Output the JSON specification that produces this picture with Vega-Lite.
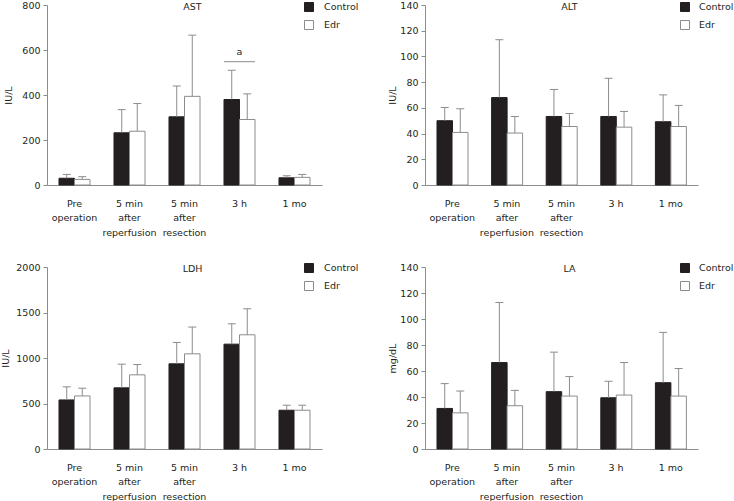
{
  "$schema": "https://vega.github.io/schema/vega-lite/v6.json",
  "padding": {"left": 0, "top": 0, "right": 0, "bottom": 0},
  "background": "white",
  "config": {
    "font": "DejaVu Sans",
    "view": {"stroke": null},
    "axis": {"labelFont": "DejaVu Sans", "titleFont": "DejaVu Sans", "labelFontSize": 9.5, "titleFontSize": 9.5, "titleFontWeight": "normal", "labelColor": "#231f20", "titleColor": "#231f20", "domainColor": "#8c8c8c", "tickColor": "#8c8c8c", "grid": false, "labelOverlap": false},
    "legend": {"labelFont": "DejaVu Sans", "labelFontSize": 9.5, "labelColor": "#231f20"},
    "title": {"font": "DejaVu Sans", "fontSize": 9.5, "fontWeight": "normal", "color": "#231f20"}
  },
  "datasets": {
    "vals": [
      {"panel": "AST", "time": "Pre|operation", "group": "Control", "mean": 30, "upper": 47},
      {"panel": "AST", "time": "Pre|operation", "group": "Edr", "mean": 25, "upper": 37},
      {"panel": "AST", "time": "5 min|after|reperfusion", "group": "Control", "mean": 232, "upper": 335},
      {"panel": "AST", "time": "5 min|after|reperfusion", "group": "Edr", "mean": 239, "upper": 362},
      {"panel": "AST", "time": "5 min|after|resection", "group": "Control", "mean": 303, "upper": 440},
      {"panel": "AST", "time": "5 min|after|resection", "group": "Edr", "mean": 394, "upper": 666},
      {"panel": "AST", "time": "3 h", "group": "Control", "mean": 380, "upper": 510},
      {"panel": "AST", "time": "3 h", "group": "Edr", "mean": 291, "upper": 405},
      {"panel": "AST", "time": "1 mo", "group": "Control", "mean": 32, "upper": 41},
      {"panel": "AST", "time": "1 mo", "group": "Edr", "mean": 34, "upper": 47},
      {"panel": "ALT", "time": "Pre|operation", "group": "Control", "mean": 50, "upper": 60.3},
      {"panel": "ALT", "time": "Pre|operation", "group": "Edr", "mean": 40.9, "upper": 59.3},
      {"panel": "ALT", "time": "5 min|after|reperfusion", "group": "Control", "mean": 68, "upper": 113},
      {"panel": "ALT", "time": "5 min|after|reperfusion", "group": "Edr", "mean": 40.4, "upper": 53.3},
      {"panel": "ALT", "time": "5 min|after|resection", "group": "Control", "mean": 53.3, "upper": 74.3},
      {"panel": "ALT", "time": "5 min|after|resection", "group": "Edr", "mean": 45.5, "upper": 55.6},
      {"panel": "ALT", "time": "3 h", "group": "Control", "mean": 53.3, "upper": 83},
      {"panel": "ALT", "time": "3 h", "group": "Edr", "mean": 45, "upper": 57.2},
      {"panel": "ALT", "time": "1 mo", "group": "Control", "mean": 49.2, "upper": 70.1},
      {"panel": "ALT", "time": "1 mo", "group": "Edr", "mean": 45.5, "upper": 61.9},
      {"panel": "LDH", "time": "Pre|operation", "group": "Control", "mean": 539, "upper": 683},
      {"panel": "LDH", "time": "Pre|operation", "group": "Edr", "mean": 583, "upper": 668},
      {"panel": "LDH", "time": "5 min|after|reperfusion", "group": "Control", "mean": 672, "upper": 932},
      {"panel": "LDH", "time": "5 min|after|reperfusion", "group": "Edr", "mean": 815, "upper": 928},
      {"panel": "LDH", "time": "5 min|after|resection", "group": "Control", "mean": 936, "upper": 1171},
      {"panel": "LDH", "time": "5 min|after|resection", "group": "Edr", "mean": 1046, "upper": 1340},
      {"panel": "LDH", "time": "3 h", "group": "Control", "mean": 1152, "upper": 1376},
      {"panel": "LDH", "time": "3 h", "group": "Edr", "mean": 1255, "upper": 1541},
      {"panel": "LDH", "time": "1 mo", "group": "Control", "mean": 426, "upper": 481},
      {"panel": "LDH", "time": "1 mo", "group": "Edr", "mean": 426, "upper": 481},
      {"panel": "LA", "time": "Pre|operation", "group": "Control", "mean": 31.2, "upper": 50.3},
      {"panel": "LA", "time": "Pre|operation", "group": "Edr", "mean": 27.8, "upper": 44.6},
      {"panel": "LA", "time": "5 min|after|reperfusion", "group": "Control", "mean": 66.5, "upper": 112.7},
      {"panel": "LA", "time": "5 min|after|reperfusion", "group": "Edr", "mean": 33.3, "upper": 45.1},
      {"panel": "LA", "time": "5 min|after|resection", "group": "Control", "mean": 44.1, "upper": 74.5},
      {"panel": "LA", "time": "5 min|after|resection", "group": "Edr", "mean": 40.7, "upper": 55.7},
      {"panel": "LA", "time": "3 h", "group": "Control", "mean": 39.4, "upper": 52.1},
      {"panel": "LA", "time": "3 h", "group": "Edr", "mean": 41.5, "upper": 66.5},
      {"panel": "LA", "time": "1 mo", "group": "Control", "mean": 51, "upper": 89.7},
      {"panel": "LA", "time": "1 mo", "group": "Edr", "mean": 40.7, "upper": 61.9}
    ],
    "ann": [
      {"time": "3 h", "lineY": 548, "textY": 592, "label": "a"}
    ]
  },
  "columns": 2,
  "spacing": {"row": 82, "column": 103},
  "bounds": "flush",
  "resolve": {"scale": {"fill": "independent", "stroke": "independent"}, "legend": {"fill": "independent", "stroke": "independent"}},
  "concat": [
    {
      "width": 275, "height": 180,
      "title": {"text": "AST", "frame": "group", "anchor": "middle", "offset": -11, "dx": 8},
      "data": {"name": "vals"},
      "transform": [{"filter": "datum.panel === 'AST'"}],
      "encoding": {
        "x": {"field": "time", "type": "nominal", "scale": {"domain": ["Pre|operation", "5 min|after|reperfusion", "5 min|after|resection", "3 h", "1 mo"], "paddingInner": 0, "paddingOuter": 0}, "axis": {"title": null, "ticks": false, "labelAngle": 0, "labelPadding": 13, "labelLineHeight": 14.5, "labelExpr": "split(datum.value, '|')"}}
      },
      "layer": [
        {"mark": {"type": "bar"}, "encoding": {
          "xOffset": {"field": "group", "type": "nominal", "scale": {"paddingInner": 0, "paddingOuter": 0.774}},
          "y": {"field": "mean", "type": "quantitative", "scale": {"domain": [0, 800]}, "axis": {"title": "IU/L", "values": [0, 200, 400, 600, 800], "tickSize": 4, "labelPadding": 3, "titlePadding": 8}},
          "fill": {"field": "group", "type": "nominal", "scale": {"domain": ["Control", "Edr"], "range": ["#231f20", "#ffffff"]}, "legend": {"orient": "none", "legendX": 257, "legendY": -3, "title": null, "symbolType": "square", "symbolSize": 81, "labelOffset": 10, "rowPadding": 4, "padding": 0, "symbolStrokeWidth": 1}},
          "stroke": {"field": "group", "type": "nominal", "scale": {"domain": ["Control", "Edr"], "range": ["#231f20", "#8c8c8c"]}, "legend": {"orient": "none", "legendX": 257, "legendY": -3, "title": null, "symbolType": "square", "symbolSize": 81, "labelOffset": 10, "rowPadding": 4, "padding": 0, "symbolStrokeWidth": 1}}
        }},
        {"mark": {"type": "rule", "color": "#8c8c8c", "strokeWidth": 1}, "encoding": {
          "xOffset": {"field": "group", "type": "nominal", "scale": {"paddingInner": 0, "paddingOuter": 0.774}},
          "y": {"field": "mean", "type": "quantitative", "axis": {"title": "IU/L", "values": [0, 200, 400, 600, 800], "tickSize": 4, "labelPadding": 3, "titlePadding": 8}}, "y2": {"field": "upper"}
        }},
        {"mark": {"type": "point", "shape": "M-1,0L1,0", "size": 64, "filled": false, "stroke": "#8c8c8c", "strokeWidth": 1, "opacity": 1}, "encoding": {
          "xOffset": {"field": "group", "type": "nominal", "scale": {"paddingInner": 0, "paddingOuter": 0.774}},
          "y": {"field": "upper", "type": "quantitative", "axis": {"title": "IU/L", "values": [0, 200, 400, 600, 800], "tickSize": 4, "labelPadding": 3, "titlePadding": 8}}
        }},
        {"data": {"name": "ann"}, "mark": {"type": "tick", "orient": "horizontal", "size": 31, "thickness": 1, "color": "#8c8c8c", "opacity": 1}, "encoding": {
          "y": {"field": "lineY", "type": "quantitative", "axis": {"title": "IU/L", "values": [0, 200, 400, 600, 800], "tickSize": 4, "labelPadding": 3, "titlePadding": 8}}
        }},
        {"data": {"name": "ann"}, "mark": {"type": "text", "fontSize": 9.5, "color": "#231f20", "baseline": "middle"}, "encoding": {
          "y": {"field": "textY", "type": "quantitative", "axis": {"title": "IU/L", "values": [0, 200, 400, 600, 800], "tickSize": 4, "labelPadding": 3, "titlePadding": 8}}, "text": {"field": "label"}
        }}
      ]
    },
    {
      "width": 273, "height": 180,
      "title": {"text": "ALT", "frame": "group", "anchor": "middle", "offset": -11, "dx": 8},
      "data": {"name": "vals"},
      "transform": [{"filter": "datum.panel === 'ALT'"}],
      "encoding": {
        "x": {"field": "time", "type": "nominal", "scale": {"domain": ["Pre|operation", "5 min|after|reperfusion", "5 min|after|resection", "3 h", "1 mo"], "paddingInner": 0, "paddingOuter": 0}, "axis": {"title": null, "ticks": false, "labelAngle": 0, "labelPadding": 13, "labelLineHeight": 14.5, "labelExpr": "split(datum.value, '|')"}},
        "xOffset": {"field": "group", "type": "nominal", "scale": {"paddingInner": 0, "paddingOuter": 0.774}}
      },
      "layer": [
        {"mark": {"type": "bar"}, "encoding": {
          "y": {"field": "mean", "type": "quantitative", "scale": {"domain": [0, 140]}, "axis": {"title": "IU/L", "values": [0, 20, 40, 60, 80, 100, 120, 140], "tickSize": 4, "labelPadding": 3, "titlePadding": 2}},
          "fill": {"field": "group", "type": "nominal", "scale": {"domain": ["Control", "Edr"], "range": ["#231f20", "#ffffff"]}, "legend": {"orient": "none", "legendX": 255, "legendY": -3, "title": null, "symbolType": "square", "symbolSize": 81, "labelOffset": 9, "rowPadding": 4, "padding": 0, "symbolStrokeWidth": 1}},
          "stroke": {"field": "group", "type": "nominal", "scale": {"domain": ["Control", "Edr"], "range": ["#231f20", "#8c8c8c"]}, "legend": {"orient": "none", "legendX": 255, "legendY": -3, "title": null, "symbolType": "square", "symbolSize": 81, "labelOffset": 9, "rowPadding": 4, "padding": 0, "symbolStrokeWidth": 1}}
        }},
        {"mark": {"type": "rule", "color": "#8c8c8c", "strokeWidth": 1}, "encoding": {
          "y": {"field": "mean", "type": "quantitative", "axis": {"title": "IU/L", "values": [0, 20, 40, 60, 80, 100, 120, 140], "tickSize": 4, "labelPadding": 3, "titlePadding": 2}}, "y2": {"field": "upper"}
        }},
        {"mark": {"type": "point", "shape": "M-1,0L1,0", "size": 64, "filled": false, "stroke": "#8c8c8c", "strokeWidth": 1, "opacity": 1}, "encoding": {
          "y": {"field": "upper", "type": "quantitative", "axis": {"title": "IU/L", "values": [0, 20, 40, 60, 80, 100, 120, 140], "tickSize": 4, "labelPadding": 3, "titlePadding": 2}}
        }}
      ]
    },
    {
      "width": 275, "height": 182,
      "title": {"text": "LDH", "frame": "group", "anchor": "middle", "offset": -11, "dx": 8},
      "data": {"name": "vals"},
      "transform": [{"filter": "datum.panel === 'LDH'"}],
      "encoding": {
        "x": {"field": "time", "type": "nominal", "scale": {"domain": ["Pre|operation", "5 min|after|reperfusion", "5 min|after|resection", "3 h", "1 mo"], "paddingInner": 0, "paddingOuter": 0}, "axis": {"title": null, "ticks": false, "labelAngle": 0, "labelPadding": 13, "labelLineHeight": 14.5, "labelExpr": "split(datum.value, '|')"}},
        "xOffset": {"field": "group", "type": "nominal", "scale": {"paddingInner": 0, "paddingOuter": 0.774}}
      },
      "layer": [
        {"mark": {"type": "bar"}, "encoding": {
          "y": {"field": "mean", "type": "quantitative", "scale": {"domain": [0, 2000]}, "axis": {"title": "IU/L", "format": "d", "values": [0, 500, 1000, 1500, 2000], "tickSize": 4, "labelPadding": 3, "titlePadding": 5}},
          "fill": {"field": "group", "type": "nominal", "scale": {"domain": ["Control", "Edr"], "range": ["#231f20", "#ffffff"]}, "legend": {"orient": "none", "legendX": 257, "legendY": -4, "title": null, "symbolType": "square", "symbolSize": 81, "labelOffset": 10, "rowPadding": 4, "padding": 0, "symbolStrokeWidth": 1}},
          "stroke": {"field": "group", "type": "nominal", "scale": {"domain": ["Control", "Edr"], "range": ["#231f20", "#8c8c8c"]}, "legend": {"orient": "none", "legendX": 257, "legendY": -4, "title": null, "symbolType": "square", "symbolSize": 81, "labelOffset": 10, "rowPadding": 4, "padding": 0, "symbolStrokeWidth": 1}}
        }},
        {"mark": {"type": "rule", "color": "#8c8c8c", "strokeWidth": 1}, "encoding": {
          "y": {"field": "mean", "type": "quantitative", "axis": {"title": "IU/L", "format": "d", "values": [0, 500, 1000, 1500, 2000], "tickSize": 4, "labelPadding": 3, "titlePadding": 5}}, "y2": {"field": "upper"}
        }},
        {"mark": {"type": "point", "shape": "M-1,0L1,0", "size": 64, "filled": false, "stroke": "#8c8c8c", "strokeWidth": 1, "opacity": 1}, "encoding": {
          "y": {"field": "upper", "type": "quantitative", "axis": {"title": "IU/L", "format": "d", "values": [0, 500, 1000, 1500, 2000], "tickSize": 4, "labelPadding": 3, "titlePadding": 5}}
        }}
      ]
    },
    {
      "width": 273, "height": 182,
      "title": {"text": "LA", "frame": "group", "anchor": "middle", "offset": -11, "dx": 8},
      "data": {"name": "vals"},
      "transform": [{"filter": "datum.panel === 'LA'"}],
      "encoding": {
        "x": {"field": "time", "type": "nominal", "scale": {"domain": ["Pre|operation", "5 min|after|reperfusion", "5 min|after|resection", "3 h", "1 mo"], "paddingInner": 0, "paddingOuter": 0}, "axis": {"title": null, "ticks": false, "labelAngle": 0, "labelPadding": 13, "labelLineHeight": 14.5, "labelExpr": "split(datum.value, '|')"}},
        "xOffset": {"field": "group", "type": "nominal", "scale": {"paddingInner": 0, "paddingOuter": 0.774}}
      },
      "layer": [
        {"mark": {"type": "bar"}, "encoding": {
          "y": {"field": "mean", "type": "quantitative", "scale": {"domain": [0, 140]}, "axis": {"title": "mg/dL", "values": [0, 20, 40, 60, 80, 100, 120, 140], "tickSize": 4, "labelPadding": 3, "titlePadding": 2}},
          "fill": {"field": "group", "type": "nominal", "scale": {"domain": ["Control", "Edr"], "range": ["#231f20", "#ffffff"]}, "legend": {"orient": "none", "legendX": 255, "legendY": -4, "title": null, "symbolType": "square", "symbolSize": 81, "labelOffset": 9, "rowPadding": 4, "padding": 0, "symbolStrokeWidth": 1}},
          "stroke": {"field": "group", "type": "nominal", "scale": {"domain": ["Control", "Edr"], "range": ["#231f20", "#8c8c8c"]}, "legend": {"orient": "none", "legendX": 255, "legendY": -4, "title": null, "symbolType": "square", "symbolSize": 81, "labelOffset": 9, "rowPadding": 4, "padding": 0, "symbolStrokeWidth": 1}}
        }},
        {"mark": {"type": "rule", "color": "#8c8c8c", "strokeWidth": 1}, "encoding": {
          "y": {"field": "mean", "type": "quantitative", "axis": {"title": "mg/dL", "values": [0, 20, 40, 60, 80, 100, 120, 140], "tickSize": 4, "labelPadding": 3, "titlePadding": 2}}, "y2": {"field": "upper"}
        }},
        {"mark": {"type": "point", "shape": "M-1,0L1,0", "size": 64, "filled": false, "stroke": "#8c8c8c", "strokeWidth": 1, "opacity": 1}, "encoding": {
          "y": {"field": "upper", "type": "quantitative", "axis": {"title": "mg/dL", "values": [0, 20, 40, 60, 80, 100, 120, 140], "tickSize": 4, "labelPadding": 3, "titlePadding": 2}}
        }}
      ]
    }
  ]
}
